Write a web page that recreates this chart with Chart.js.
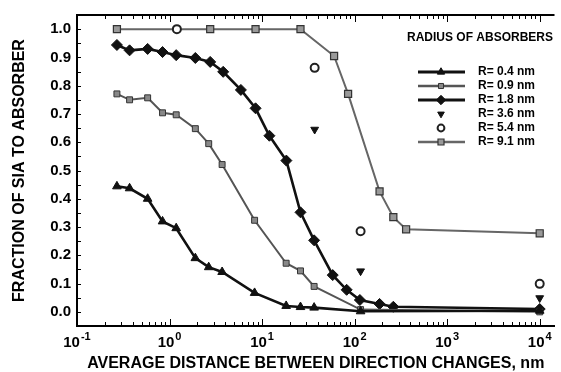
<!DOCTYPE html>
<html>
<head>
<meta charset="utf-8">
<script src="https://cdn.jsdelivr.net/npm/chart.js@4.4.0/dist/chart.umd.min.js"></script>
<style>
  html, body { margin: 0; padding: 0; background: #fff; }
  #wrap { width: 561px; height: 372px; position: relative; }
</style>
</head>
<body>
<div id="wrap"><canvas id="fractionChart"></canvas></div>
<script>
// ============================================================================
// DATA
// ============================================================================
const xSmall = [0.27, 0.37, 0.58, 0.84, 1.18, 1.9, 2.65, 3.7, 8.3, 18.2, 26, 36.5, 116, 10000];
const r04 = [0.444, 0.437, 0.40, 0.32, 0.296, 0.19, 0.158, 0.141, 0.067, 0.021, 0.017, 0.015, 0.002, 0.004];
const r09 = [0.771, 0.75, 0.757, 0.704, 0.697, 0.648, 0.595, 0.521, 0.324, 0.172, 0.145, 0.09, 0.008, 0.0];

const x18 = [0.27, 0.37, 0.58, 0.84, 1.18, 1.9, 2.75, 3.8, 5.9, 8.5, 12, 18.3, 26, 36.5, 58, 82, 114, 186, 262, 10000];
const r18 = [0.944, 0.925, 0.93, 0.919, 0.908, 0.898, 0.884, 0.849, 0.785, 0.72, 0.623, 0.535, 0.352, 0.253, 0.13, 0.078, 0.042, 0.028, 0.018, 0.01];

const x36 = [37, 116, 10000];
const r36 = [0.645, 0.144, 0.049];

const x54 = [1.2, 37, 116, 10000];
const r54 = [1.0, 0.863, 0.285, 0.099];

const x91 = [0.27, 2.75, 8.5, 26, 60, 85, 186, 262, 360, 10000];
const r91 = [1.0, 1.0, 1.0, 1.0, 0.905, 0.771, 0.426, 0.335, 0.292, 0.278];

const seriesLabels = ["R= 0.4 nm", "R= 0.9 nm", "R= 1.8 nm", "R= 3.6 nm", "R= 5.4 nm", "R= 9.1 nm"];
const xTickValues = [0.1, 1, 10, 100, 1000, 10000];
const xTickExp = ["-1", "0", "1", "2", "3", "4"];
const yTickValues = [0, 0.1, 0.2, 0.3, 0.4, 0.5, 0.6, 0.7, 0.8, 0.9, 1.0];

const FONT = "'Liberation Sans', Arial, Helvetica, sans-serif";

function pts(xs, ys) {
  return xs.map((x, i) => ({ x: x, y: ys[i] }));
}

const datasets = [
  {
    label: seriesLabels[0], data: pts(xSmall, r04),
    borderColor: "#111", borderWidth: 2.6, showLine: true,
    pointStyle: "triangle", pointRadius: 5, pointBackgroundColor: "#111", pointBorderColor: "#111", pointBorderWidth: 1,
  },
  {
    label: seriesLabels[1], data: pts(xSmall, r09),
    borderColor: "#555", borderWidth: 2, showLine: true,
    pointStyle: "rect", pointRadius: 4.2, pointBackgroundColor: "#888", pointBorderColor: "#333", pointBorderWidth: 1,
  },
  {
    label: seriesLabels[2], data: pts(x18, r18),
    borderColor: "#111", borderWidth: 2.6, showLine: true,
    pointStyle: "rectRot", pointRadius: 5.5, pointBackgroundColor: "#111", pointBorderColor: "#111", pointBorderWidth: 1,
  },
  {
    label: seriesLabels[3], data: pts(x36, r36),
    showLine: false,
    pointStyle: "triangle", pointRotation: 180, pointRadius: 4.5, pointBackgroundColor: "#111", pointBorderColor: "#111", pointBorderWidth: 1,
  },
  {
    label: seriesLabels[4], data: pts(x54, r54),
    showLine: false,
    pointStyle: "circle", pointRadius: 4, pointBackgroundColor: "#fff", pointBorderColor: "#222", pointBorderWidth: 2,
  },
  {
    label: seriesLabels[5], data: pts(x91, r91),
    borderColor: "#666", borderWidth: 2, showLine: true,
    pointStyle: "rect", pointRadius: 5, pointBackgroundColor: "#999", pointBorderColor: "#333", pointBorderWidth: 1.2,
  },
];

// ============================================================================
// frame: top border, inward ticks, superscript x labels
// ============================================================================
const frameTicks = {
  id: "frameTicks",
  afterDraw(chart) {
    const { ctx, chartArea: a, scales } = chart;
    const x = scales.x, y = scales.y;
    ctx.save();
    ctx.strokeStyle = "#000";
    ctx.lineWidth = 2;
    ctx.beginPath();
    ctx.moveTo(a.left, a.top);
    ctx.lineTo(a.right, a.top);
    ctx.stroke();

    ctx.lineWidth = 1;
    ctx.beginPath();
    for (let e = -1; e <= 4; e++) {
      for (let m = 1; m <= 9; m++) {
        const v = m * Math.pow(10, e);
        if (v > x.max) continue;
        const px = Math.round(x.getPixelForValue(v)) + 0.5;
        const len = m === 1 ? 7 : 4;
        ctx.moveTo(px, a.bottom); ctx.lineTo(px, a.bottom - len);
        ctx.moveTo(px, a.top); ctx.lineTo(px, a.top + len);
      }
    }
    for (let i = 0; i <= 20; i++) {
      const py = Math.round(y.getPixelForValue(i * 0.05)) + 0.5;
      ctx.moveTo(a.left, py); ctx.lineTo(a.left + 4, py);
    }
    ctx.stroke();

    // x tick labels 10^n
    ctx.fillStyle = "#000";
    ctx.textBaseline = "alphabetic";
    xTickValues.forEach((v, i) => {
      const px = x.getPixelForValue(v);
      ctx.font = "bold 15px " + FONT;
      const wBase = ctx.measureText("10").width;
      ctx.font = "bold 11px " + FONT;
      const wExp = ctx.measureText(xTickExp[i]).width;
      const start = px - (wBase + wExp + 1) / 2;
      ctx.font = "bold 15px " + FONT;
      ctx.textAlign = "left";
      ctx.fillText("10", start, a.bottom + 21);
      ctx.font = "bold 11px " + FONT;
      ctx.fillText(xTickExp[i], start + wBase + 1, a.bottom + 14);
    });
    ctx.restore();
  },
};

// ============================================================================
// legend drawn inside the plot
// ============================================================================
const insideLegend = {
  id: "insideLegend",
  afterDatasetsDraw(chart) {
    const ctx = chart.ctx;
    ctx.save();
    ctx.fillStyle = "#000";
    ctx.font = "bold 12px " + FONT;
    ctx.textAlign = "left";
    ctx.textBaseline = "middle";
    ctx.fillText("RADIUS OF ABSORBERS", 407, 38);

    const rowY = [72, 86, 100, 114, 128, 142];
    chart.data.datasets.forEach((ds, i) => {
      const yy = rowY[i];
      if (ds.showLine) {
        ctx.strokeStyle = ds.borderColor;
        ctx.lineWidth = ds.borderWidth + 0.4;
        ctx.beginPath();
        ctx.moveTo(418, yy);
        ctx.lineTo(465, yy);
        ctx.stroke();
      }
      ctx.fillStyle = ds.pointBackgroundColor;
      ctx.strokeStyle = ds.pointBorderColor;
      ctx.lineWidth = ds.pointBorderWidth;
      Chart.helpers.drawPoint(ctx, {
        pointStyle: ds.pointStyle,
        radius: ds.pointRadius * 0.85,
        rotation: ds.pointRotation || 0,
        borderWidth: ds.pointBorderWidth,
      }, 441, yy);
      ctx.fillStyle = "#000";
      ctx.font = "bold 12px " + FONT;
      ctx.fillText(ds.label, 478, yy);
    });
    ctx.restore();
  },
};

document.addEventListener("DOMContentLoaded", () => {
  const ctx = document.getElementById("fractionChart").getContext("2d");

  new Chart(ctx, {
    type: "line",
    data: { datasets: datasets },
    options: {
      responsive: true,
      maintainAspectRatio: false,
      animation: false,
      layout: { padding: { top: 14, right: 0, left: 0, bottom: 0 } },
      plugins: {
        legend: { display: false },
        tooltip: { enabled: false },
      },
      elements: { line: { tension: 0 } },
      scales: {
        x: {
          type: "logarithmic",
          min: 0.1,
          max: 14450,
          grid: { display: false, drawTicks: false },
          border: { display: true, color: "#000", width: 2 },
          ticks: { display: false },
          afterBuildTicks: (scale) => {
            scale.ticks = xTickValues.map((v) => ({ value: v }));
          },
          afterFit: (scale) => { scale.height = 46; },
          title: {
            display: true,
            text: "AVERAGE DISTANCE BETWEEN DIRECTION CHANGES, nm",
            color: "#000",
            font: { family: FONT, size: 16, weight: "bold", lineHeight: 1 },
            padding: { top: 0, bottom: 0 },
          },
        },
        y: {
          type: "linear",
          min: -0.05,
          max: 1.05,
          grid: { display: false, drawTicks: false },
          border: { display: true, color: "#000", width: 2 },
          afterBuildTicks: (scale) => {
            scale.ticks = yTickValues.map((v) => ({ value: v }));
          },
          afterFit: (scale) => { scale.width = 77; },
          ticks: {
            color: "#000",
            padding: 6,
            font: { family: FONT, size: 15, weight: "bold" },
            callback: (v) => Number(v).toFixed(1),
          },
          title: {
            display: true,
            text: "FRACTION OF SIA TO ABSORBER",
            color: "#000",
            font: { family: FONT, size: 16, weight: "bold", lineHeight: 1 },
            padding: { top: 12, bottom: 0 },
          },
        },
      },
    },
    plugins: [frameTicks, insideLegend],
  });
});
</script>
</body>
</html>
